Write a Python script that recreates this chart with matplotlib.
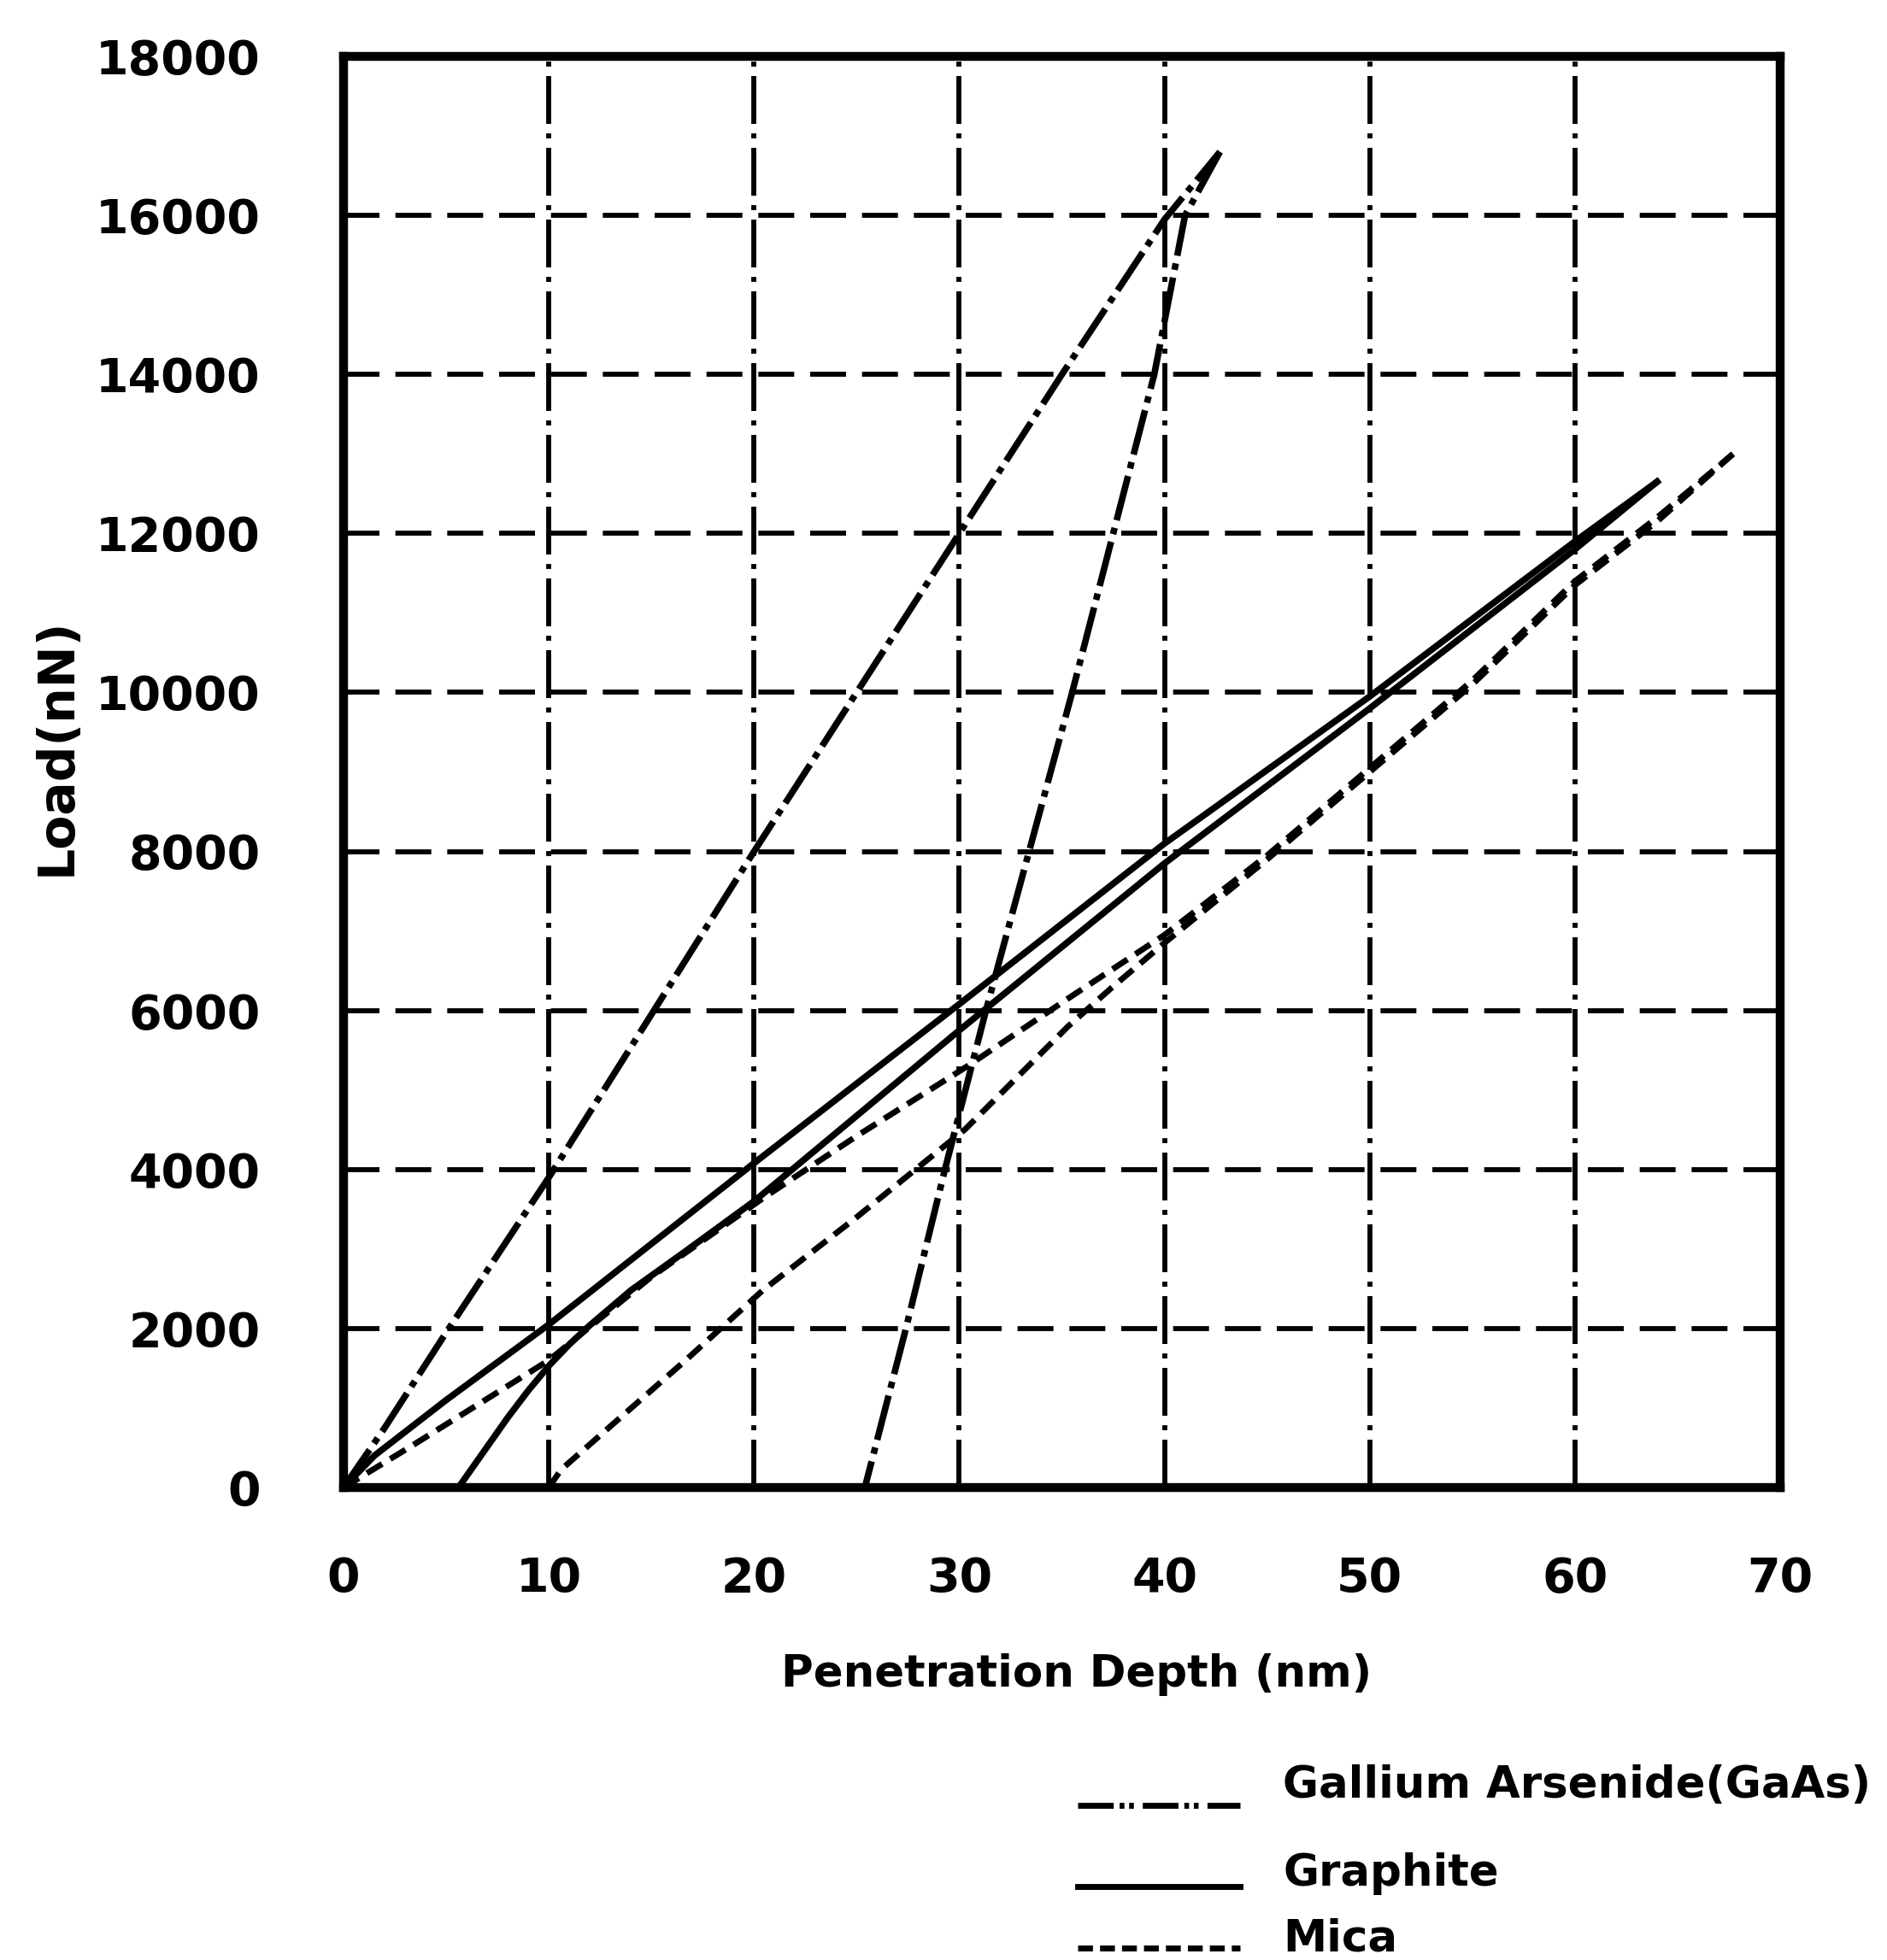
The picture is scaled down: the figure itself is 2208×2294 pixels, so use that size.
import matplotlib
matplotlib.use("Agg")
import matplotlib.pyplot as plt
from matplotlib.lines import Line2D

# ---- data ----
x_ticks = [0, 10, 20, 30, 40, 50, 60, 70]
y_ticks = [0, 2000, 4000, 6000, 8000, 10000, 12000, 14000, 16000, 18000]

gaas_load_x = [0, 2, 5, 10, 15, 20, 25, 30, 35, 40, 42.7]
gaas_load_y = [0, 750, 1950, 3900, 5950, 8000, 10000, 12000, 14000, 15950, 16800]
gaas_unload_x = [42.7, 41.0, 39.5, 37.5, 35.5, 33.4, 31.3, 29.3, 27.4, 25.4]
gaas_unload_y = [16800, 16000, 14000, 12000, 10000, 8000, 6000, 4000, 2000, 0]

graphite_load_x = [0, 1.5, 5, 10, 20, 30, 40, 50, 60, 64]
graphite_load_y = [0, 400, 1100, 2050, 4080, 6080, 8100, 9950, 11900, 12650]
graphite_unload_x = [64, 60, 50, 40, 30, 20, 16.6, 14, 12, 11, 10, 9, 8, 6.5, 5.6]
graphite_unload_y = [12650, 11800, 9800, 7850, 5750, 3600, 2960, 2480, 2040, 1800, 1530, 1220, 880, 330, 0]

mica_load_x = [0, 3.3, 10, 15, 20.5, 25, 30.4, 35.3, 40, 45, 50, 55, 60, 64, 67.7]
mica_load_y = [0, 520, 1600, 2650, 3650, 4420, 5300, 6150, 6950, 7950, 9050, 10150, 11400, 12200, 13000]
mica_unload_x = [67.7, 64, 60, 55, 50, 45, 40, 37.4, 35.3, 30.3, 25, 20.4, 16.6, 10.6, 10]
mica_unload_y = [13000, 12150, 11350, 10100, 9000, 7900, 6850, 6280, 5800, 4509, 3400, 2474, 1585, 225, 0]

legend_labels = ["Gallium Arsenide(GaAs)", "Graphite", "Mica"]

# ---- styles ----
plt.rcParams['font.family'] = ['DejaVu Sans']
FONT = dict(fontweight='bold', color='black')
GAAS_DASH = (7, 1.2, 1, 1.2)
MICA_DASH = (3, 1.6)
LW = 5.5

fig = plt.figure(figsize=(22.08, 22.94), dpi=100)
ax = fig.add_axes([0.1821, 0.2411, 0.7613, 0.7301])
ax.set_xlim(0, 70)
ax.set_ylim(0, 18000)

# grid
for gx in x_ticks[1:-1]:
    ax.plot([gx, gx], [0, 18000], color='black', lw=4.2,
            dashes=(9.6, 1.9, 1, 1.9), solid_capstyle='butt', zorder=1)
for gy in y_ticks[1:-1]:
    ax.plot([0, 70], [gy, gy], color='black', lw=4.2,
            dashes=(7.2, 3.2), zorder=1)

# curves
ax.plot(gaas_load_x, gaas_load_y, color='black', lw=LW, dashes=GAAS_DASH, zorder=3)
ax.plot(gaas_unload_x, gaas_unload_y, color='black', lw=LW, dashes=GAAS_DASH, zorder=3)
ax.plot(graphite_load_x, graphite_load_y, color='black', lw=LW, zorder=3)
ax.plot(graphite_unload_x, graphite_unload_y, color='black', lw=LW, zorder=3)
ax.plot(mica_load_x, mica_load_y, color='black', lw=LW - 0.5, dashes=MICA_DASH, zorder=3)
ax.plot(mica_unload_x, mica_unload_y, color='black', lw=LW - 0.5, dashes=MICA_DASH, zorder=3)

for s in ax.spines.values():
    s.set_linewidth(7.5)
    s.set_color('black')

ax.set_xticks(x_ticks)
ax.set_yticks(y_ticks)
ax.set_xticklabels([str(v) for v in x_ticks], fontsize=40, **FONT)
ax.set_yticklabels([str(v) for v in y_ticks], fontsize=40, **FONT)
ax.tick_params(axis='x', length=0, pad=58)
ax.tick_params(axis='y', length=0, pad=70)

fig.text(0.5706, 0.1456, "Penetration Depth (nm)", ha='center', va='center',
         fontsize=37, **FONT)
fig.text(0.0299, 0.619, "Load(nN)", ha='center', va='center', rotation=90,
         fontsize=42, **FONT)

# legend drawn manually in figure coordinates
leg_rows = [(0.0789, 0.0889), (0.0375, 0.044), (0.0060, 0.0105)]
leg_styles = [dict(dashes=(6, 1, 0.8, 0.8, 0.8, 1.5)), dict(), dict(dashes=(2.5, 1.2))]
for (ly, ty), lab, st in zip(leg_rows, legend_labels, leg_styles):
    fig.add_artist(Line2D([0.571, 0.657], [ly, ly], transform=fig.transFigure,
                          color='black', lw=5, **st))
    fig.text(0.680, ty, lab, ha='left', va='center', fontsize=37, **FONT)

fig.savefig("out.png", dpi=100, facecolor='white')
